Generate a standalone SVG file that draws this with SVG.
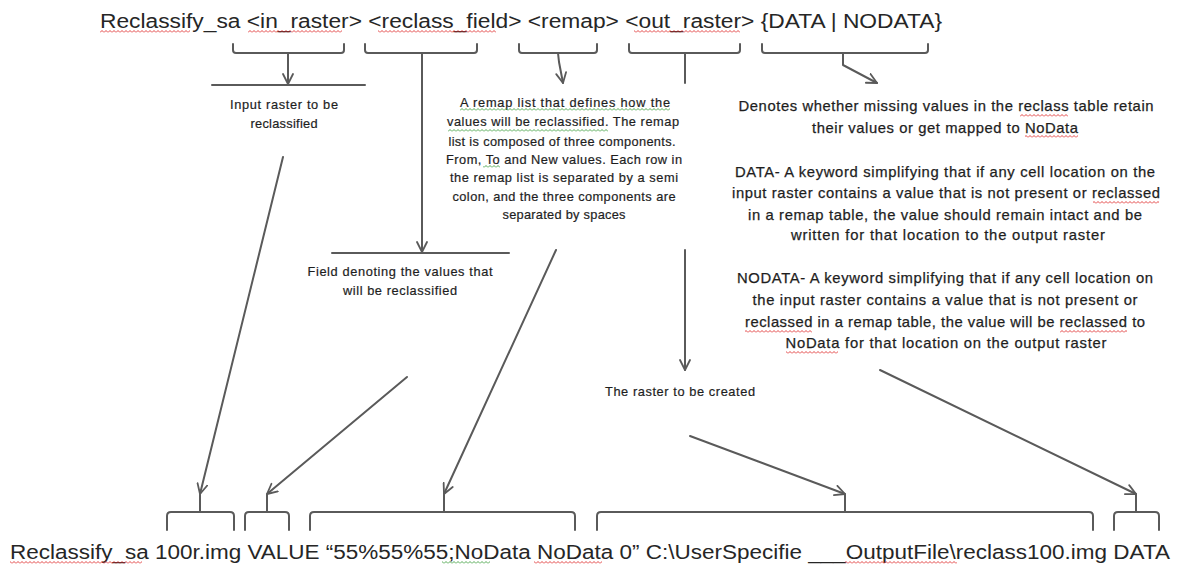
<svg xmlns="http://www.w3.org/2000/svg" width="1182" height="569" viewBox="0 0 1182 569">
<style>
text{font-family:"Liberation Sans",Arial,sans-serif;fill:#1e1e1e}
.big{font-size:20px;fill:#262626}
.sm{font-size:12.8px;text-anchor:middle;stroke:#1e1e1e;stroke-width:0.2}
.md{font-size:14.8px;text-anchor:middle;stroke:#1e1e1e;stroke-width:0.25}
.ln{fill:none;stroke:#5a5a5a;stroke-width:2;stroke-linecap:round;stroke-linejoin:round}
.arr{marker-end:url(#ah)}
</style>
<defs>
<marker id="ah" viewBox="0 0 12 12" refX="11" refY="6" markerWidth="12" markerHeight="12" markerUnits="userSpaceOnUse" orient="auto">
<path d="M1,1 L11,6 L1,11" fill="none" stroke="#5a5a5a" stroke-width="1.8" stroke-linecap="round" stroke-linejoin="round"/>
</marker>
<pattern id="wr" width="4" height="3" patternUnits="userSpaceOnUse"><path d="M0,2.5 L2,0.5 L4,2.5" fill="none" stroke="#e03030" stroke-width="0.9"/></pattern>
<pattern id="wg" width="4" height="3" patternUnits="userSpaceOnUse"><path d="M0,2.5 L2,0.5 L4,2.5" fill="none" stroke="#3fa03f" stroke-width="0.9"/></pattern>
</defs>

<g id="top-syntax">
<text class="big" x="100" y="28" textLength="842" lengthAdjust="spacingAndGlyphs">Reclassify_sa &lt;in_raster&gt; &lt;reclass_field&gt; &lt;remap&gt; &lt;out_raster&gt; {DATA | NODATA}</text>
<rect x="100" y="30" width="90" height="3" fill="url(#wr)"/>
<rect x="248" y="30" width="94" height="3" fill="url(#wr)"/>
<rect x="378" y="30" width="118" height="3" fill="url(#wr)"/>
<rect x="634" y="30" width="106" height="3" fill="url(#wr)"/>
</g>

<g id="bottom-example">
<text class="big" x="10" y="559" textLength="1160" lengthAdjust="spacingAndGlyphs">Reclassify_sa 100r.img VALUE “55%55%55;NoData NoData 0” C:\UserSpecifie ___OutputFile\reclass100.img DATA</text>
<rect x="10" y="561" width="132" height="3" fill="url(#wr)"/>
<rect x="442" y="561" width="48" height="3" fill="url(#wg)"/>
<rect x="534" y="561" width="68" height="3" fill="url(#wr)"/>
<rect x="845" y="561" width="112" height="3" fill="url(#wr)"/>
</g>

<g id="node-in-raster">
<text class="sm" x="284" y="109" textLength="108">Input raster to be</text>
<text class="sm" x="284" y="128" textLength="67">reclassified</text>
</g>

<g id="node-reclass-field">
<text class="sm" x="400" y="276" textLength="185">Field denoting the values that</text>
<text class="sm" x="400" y="295" textLength="114">will be reclassified</text>
</g>

<g id="node-remap">
<text class="sm" x="565" y="107" textLength="210">A remap list that defines how the</text>
<text class="sm" x="563" y="126" textLength="232">values will be reclassified. The remap</text>
<text class="sm" x="562" y="146" textLength="227">list is composed of three components.</text>
<text class="sm" x="564" y="164" textLength="236">From, To and New values. Each row in</text>
<text class="sm" x="564" y="182" textLength="228">the remap list is separated by a semi</text>
<text class="sm" x="564" y="201" textLength="223">colon, and the three components are</text>
<text class="sm" x="564" y="219" textLength="123">separated by spaces</text>
<rect x="460" y="108" width="210" height="3" fill="url(#wg)"/>
<rect x="448" y="129" width="160" height="3" fill="url(#wg)"/>
<rect x="483" y="165" width="17" height="3" fill="url(#wg)"/>
</g>

<g id="node-data-nodata">
<text class="md" x="946" y="111" textLength="415">Denotes whether missing values in the reclass table retain</text>
<text class="md" x="945" y="133" textLength="266">their values or get mapped to NoData</text>
<text class="md" x="945" y="177" textLength="420">DATA- A keyword simplifying that if any cell location on the</text>
<text class="md" x="946" y="198" textLength="428">input raster contains a value that is not present or reclassed</text>
<text class="md" x="945" y="220" textLength="394">in a remap table, the value should remain intact and be</text>
<text class="md" x="948" y="240" textLength="314">written for that location to the output raster</text>
<text class="md" x="945" y="283" textLength="416">NODATA- A keyword simplifying that if any cell location on</text>
<text class="md" x="945" y="305" textLength="385">the input raster contains a value that is not present or</text>
<text class="md" x="945" y="327" textLength="400">reclassed in a remap table, the value will be reclassed to</text>
<text class="md" x="946" y="348" textLength="321">NoData for that location on the output raster</text>
<rect x="1020" y="114" width="48" height="3" fill="url(#wr)"/>
<rect x="1025" y="135" width="53" height="3" fill="url(#wr)"/>
<rect x="1093" y="201" width="66" height="3" fill="url(#wr)"/>
<rect x="745" y="330" width="67" height="3" fill="url(#wr)"/>
<rect x="1060" y="330" width="67" height="3" fill="url(#wr)"/>
<rect x="786" y="351" width="52" height="3" fill="url(#wr)"/>
</g>

<g id="node-out-raster">
<text class="sm" x="680" y="396" textLength="150">The raster to be created</text>
</g>

<g id="connectors">
<path class="ln" d="M233,44 V50 Q233,53 236,53 H341 Q344,53 344,50 V44"/>
<path class="ln" d="M365,44 V50 Q365,53 368,53 H474 Q477,53 477,50 V44"/>
<path class="ln" d="M519,44 V50 Q519,53 522,53 H594 Q597,53 597,50 V44"/>
<path class="ln" d="M629,44 V50 Q629,53 632,53 H737 Q740,53 740,50 V44"/>
<path class="ln" d="M762,44 V50 Q762,53 765,53 H925 Q928,53 928,50 V44"/>
<path class="ln arr" d="M288,53 V84"/>
<path class="ln" d="M212,85 H365"/>
<path class="ln arr" d="M422,53 V252"/>
<path class="ln" d="M332,253 H509"/>
<path class="ln arr" d="M558,53 L559,62 L563,83"/>
<path class="ln" d="M685,53 V83"/>
<path class="ln arr" d="M685,250 V370"/>
<path class="ln arr" d="M843,53 V65 L877,83"/>
<path class="ln" d="M167,530 V516 Q167,512 171,512 H230 Q234,512 234,516 V530 M200,512 V495"/>
<path class="ln" d="M245,530 V516 Q245,512 249,512 H285 Q289,512 289,516 V530 M267,512 V495"/>
<path class="ln" d="M310,530 V516 Q310,512 314,512 H571 Q575,512 575,516 V530 M444,512 V495"/>
<path class="ln" d="M597,530 V516 Q597,512 601,512 H1089 Q1093,512 1093,516 V530 M845,512 V495"/>
<path class="ln" d="M1114,530 V516 Q1114,512 1118,512 H1155 Q1159,512 1159,516 V530 M1136,512 V495"/>
<path class="ln arr" d="M283,157 L200,494"/>
<path class="ln arr" d="M407,377 L267,494"/>
<path class="ln arr" d="M556,250 L444,494"/>
<path class="ln arr" d="M690,436 L845,494"/>
<path class="ln arr" d="M880,370 L1136,494"/>
</g>
</svg>
